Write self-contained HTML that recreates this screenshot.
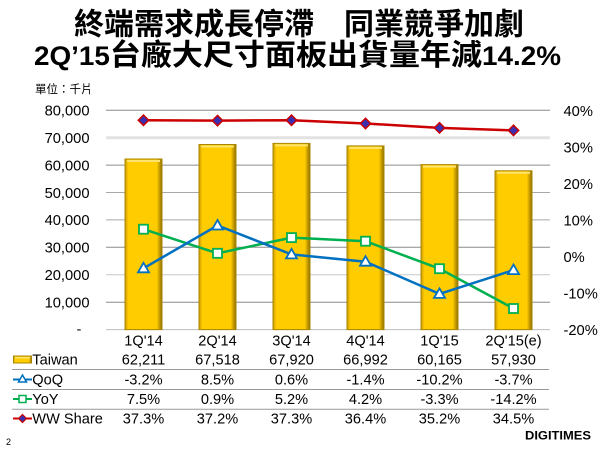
<!DOCTYPE html>
<html>
<head>
<meta charset="utf-8">
<style>
html,body{margin:0;padding:0;background:#fff;}
svg{display:block;}
text{font-family:"Liberation Sans","Noto Sans CJK TC",sans-serif;fill:#000;}
.cjk{font-family:"Liberation Sans","Noto Sans CJK TC",sans-serif;}
.ax{font-size:14.7px;fill:#111;}
.tb{font-size:14.6px;fill:#111;}
</style>
</head>
<body>
<svg width="600" height="450" viewBox="0 0 600 450" xmlns="http://www.w3.org/2000/svg">
<defs>
<linearGradient id="bar" x1="0" y1="0" x2="1" y2="0">
<stop offset="0" stop-color="#C99A00"/>
<stop offset="0.09" stop-color="#FFCC00"/>
<stop offset="0.86" stop-color="#FFCC00"/>
<stop offset="1" stop-color="#8E6E00"/>
</linearGradient>
</defs>

<!-- Titles -->
<text x="74" y="34.5" font-size="30" font-weight="700" class="cjk" textLength="450" lengthAdjust="spacingAndGlyphs">終端需求成長停滯　同業競爭加劇</text>
<text x="34" y="65" font-weight="700" class="cjk" textLength="527" lengthAdjust="spacingAndGlyphs"><tspan font-size="26.5">2Q’15</tspan><tspan font-size="29.5">台廠大尺寸面板出貨量年減</tspan><tspan font-size="26.5">14.2%</tspan></text>
<text x="35" y="93" font-size="11.5" class="cjk" fill="#222">單位：千片</text>

<!-- Gridlines -->
<g stroke-width="1">
<line x1="106" x2="550" y1="110.2" y2="110.2" stroke="#8c8c8c"/>
<line x1="106" x2="550" y1="137.7" y2="137.7" stroke="#e2e2e2" stroke-width="3"/>
<line x1="106" x2="550" y1="165.1" y2="165.1" stroke="#8c8c8c"/>
<line x1="106" x2="550" y1="192.5" y2="192.5" stroke="#a8a8a8"/>
<line x1="106" x2="550" y1="219.9" y2="219.9" stroke="#a8a8a8"/>
<line x1="106" x2="550" y1="247.3" y2="247.3" stroke="#8c8c8c"/>
<line x1="106" x2="550" y1="274.8" y2="274.8" stroke="#c8c8c8"/>
<line x1="106" x2="550" y1="302.2" y2="302.2" stroke="#8c8c8c"/>
<line x1="106" x2="550" y1="329.6" y2="329.6" stroke="#bdbdbd"/>
</g>

<!-- Left axis labels -->
<g class="ax" text-anchor="end">
<text x="89.5" y="115.5">80,000</text>
<text x="89.5" y="143">70,000</text>
<text x="89.5" y="170.4">60,000</text>
<text x="89.5" y="197.8">50,000</text>
<text x="89.5" y="225.2">40,000</text>
<text x="89.5" y="252.6">30,000</text>
<text x="89.5" y="280">20,000</text>
<text x="89.5" y="307.5">10,000</text>
</g>
<text x="79" y="334" class="ax" text-anchor="middle">-</text>

<!-- Right axis labels -->
<g class="ax">
<text x="563.5" y="115.8">40%</text>
<text x="563.5" y="152.4">30%</text>
<text x="563.5" y="188.9">20%</text>
<text x="563.5" y="225.5">10%</text>
<text x="563.5" y="262">0%</text>
<text x="563.5" y="298.6">-10%</text>
<text x="563.5" y="335.2">-20%</text>
</g>

<!-- Bars -->
<g fill="url(#bar)" stroke="#A88700" stroke-width="1">
<rect x="125" y="159.0" width="37" height="170.6"/>
<rect x="199" y="144.5" width="37" height="185.1"/>
<rect x="273" y="143.4" width="37" height="186.2"/>
<rect x="347" y="145.9" width="37" height="183.7"/>
<rect x="421" y="164.6" width="37" height="165.0"/>
<rect x="495" y="170.8" width="37" height="158.8"/>
</g>
<g fill="#FFE36B">
<rect x="127" y="160" width="33" height="2"/>
<rect x="201" y="145.5" width="33" height="2"/>
<rect x="275" y="144.4" width="33" height="2"/>
<rect x="349" y="146.9" width="33" height="2"/>
<rect x="423" y="165.6" width="33" height="2"/>
<rect x="497" y="171.8" width="33" height="2"/>
</g>

<!-- WW Share -->
<polyline points="143.5,120.2 217.5,120.6 291.5,120.2 365.5,123.5 439.5,127.9 513.5,130.4" fill="none" stroke="#CC0000" stroke-width="2.5"/>
<g fill="#3A2FB0" stroke="#CC0000" stroke-width="1.5">
<polygon points="143.5,115 148.7,120.2 143.5,125.4 138.3,120.2"/>
<polygon points="217.5,115.4 222.7,120.6 217.5,125.8 212.3,120.6"/>
<polygon points="291.5,115 296.7,120.2 291.5,125.4 286.3,120.2"/>
<polygon points="365.5,118.3 370.7,123.5 365.5,128.7 360.3,123.5"/>
<polygon points="439.5,122.7 444.7,127.9 439.5,133.1 434.3,127.9"/>
<polygon points="513.5,125.2 518.7,130.4 513.5,135.6 508.3,130.4"/>
</g>

<!-- YoY -->
<polyline points="143.5,229.2 217.5,253.3 291.5,237.6 365.5,241.2 439.5,268.7 513.5,308.5" fill="none" stroke="#00B050" stroke-width="2.5"/>
<g fill="#fff" stroke="#00B050" stroke-width="1.8">
<rect x="139" y="224.7" width="9" height="9"/>
<rect x="213" y="248.8" width="9" height="9"/>
<rect x="287" y="233.1" width="9" height="9"/>
<rect x="361" y="236.7" width="9" height="9"/>
<rect x="435" y="264.2" width="9" height="9"/>
<rect x="509" y="304" width="9" height="9"/>
</g>

<!-- QoQ -->
<polyline points="143.5,268.3 217.5,225.5 291.5,254.4 365.5,261.7 439.5,293.9 513.5,270.1" fill="none" stroke="#0070C0" stroke-width="2.5"/>
<g fill="#fff" stroke="#0070C0" stroke-width="1.8">
<polygon points="143.5,262.8 149,272.3 138,272.3"/>
<polygon points="217.5,220 223,229.5 212,229.5"/>
<polygon points="291.5,248.9 297,258.4 286,258.4"/>
<polygon points="365.5,256.2 371,265.7 360,265.7"/>
<polygon points="439.5,288.4 445,297.9 434,297.9"/>
<polygon points="513.5,264.6 519,274.1 508,274.1"/>
</g>

<!-- Table -->
<g stroke="#999" stroke-width="1">
<line x1="12" x2="549" y1="369.5" y2="369.5"/>
<line x1="12" x2="549" y1="389.5" y2="389.5"/>
<line x1="12" x2="549" y1="409.2" y2="409.2"/>
</g>

<g class="tb" text-anchor="middle">
<text x="143.5" y="345.6">1Q'14</text>
<text x="217.5" y="345.6">2Q'14</text>
<text x="291.5" y="345.6">3Q'14</text>
<text x="365.5" y="345.6">4Q'14</text>
<text x="439.5" y="345.6">1Q'15</text>
<text x="513.5" y="345.6">2Q'15(e)</text>

<text x="143.5" y="364.6">62,211</text>
<text x="217.5" y="364.6">67,518</text>
<text x="291.5" y="364.6">67,920</text>
<text x="365.5" y="364.6">66,992</text>
<text x="439.5" y="364.6">60,165</text>
<text x="513.5" y="364.6">57,930</text>

<text x="143.5" y="384.4">-3.2%</text>
<text x="217.5" y="384.4">8.5%</text>
<text x="291.5" y="384.4">0.6%</text>
<text x="365.5" y="384.4">-1.4%</text>
<text x="439.5" y="384.4">-10.2%</text>
<text x="513.5" y="384.4">-3.7%</text>

<text x="143.5" y="404.2">7.5%</text>
<text x="217.5" y="404.2">0.9%</text>
<text x="291.5" y="404.2">5.2%</text>
<text x="365.5" y="404.2">4.2%</text>
<text x="439.5" y="404.2">-3.3%</text>
<text x="513.5" y="404.2">-14.2%</text>

<text x="143.5" y="423.6">37.3%</text>
<text x="217.5" y="423.6">37.2%</text>
<text x="291.5" y="423.6">37.3%</text>
<text x="365.5" y="423.6">36.4%</text>
<text x="439.5" y="423.6">35.2%</text>
<text x="513.5" y="423.6">34.5%</text>
</g>

<!-- Legend labels -->
<g class="tb">
<text x="32.3" y="364.6">Taiwan</text>
<text x="32.3" y="384.4">QoQ</text>
<text x="32.3" y="404.2">YoY</text>
<text x="32.3" y="423.6">WW Share</text>
</g>

<!-- Legend icons -->
<rect x="13.5" y="356" width="18" height="7" fill="url(#bar)" stroke="#A88700" stroke-width="1"/>
<rect x="15" y="357" width="15" height="1.5" fill="#FFE36B"/>

<line x1="13" x2="32" y1="379.5" y2="379.5" stroke="#0070C0" stroke-width="2"/>
<polygon points="22.5,375 26.5,382 18.5,382" fill="#fff" stroke="#0070C0" stroke-width="1.5"/>

<line x1="13" x2="32" y1="399" y2="399" stroke="#00B050" stroke-width="2"/>
<rect x="19" y="395.5" width="7" height="7" fill="#fff" stroke="#00B050" stroke-width="1.5"/>

<line x1="13" x2="32" y1="418.5" y2="418.5" stroke="#CC0000" stroke-width="2"/>
<polygon points="22.5,414.5 26.5,418.5 22.5,422.5 18.5,418.5" fill="#3A2FB0" stroke="#CC0000" stroke-width="1.2"/>

<!-- Footer -->
<text x="6" y="445" font-size="9" fill="#333">2</text>
<text x="525" y="439.5" font-size="11.5" font-weight="900" textLength="66" lengthAdjust="spacingAndGlyphs" fill="#1a1a1a">DIGITIMES</text>
</svg>
</body>
</html>
